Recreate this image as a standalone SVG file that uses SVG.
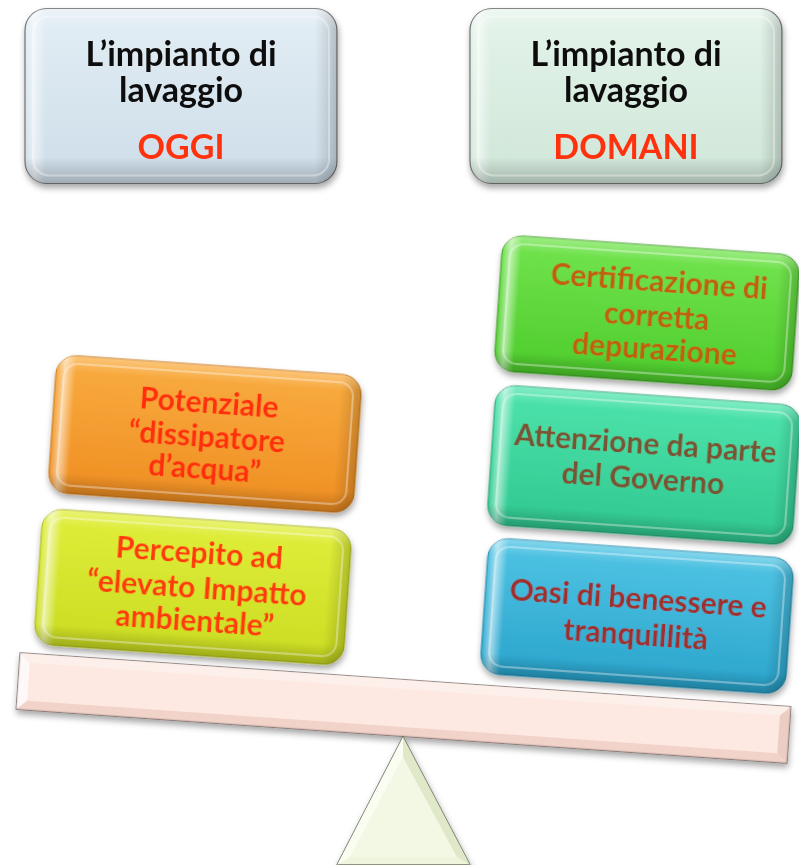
<svg xmlns="http://www.w3.org/2000/svg" width="799" height="865" viewBox="0 0 799 865">
<defs>
  <filter id="sh" x="-10%" y="-10%" width="120%" height="130%">
    <feGaussianBlur in="SourceAlpha" stdDeviation="3"/>
    <feOffset dx="1" dy="4" result="b"/>
    <feFlood flood-color="#000" flood-opacity="0.35"/>
    <feComposite in2="b" operator="in"/>
    <feMerge><feMergeNode/><feMergeNode in="SourceGraphic"/></feMerge>
  </filter>
  <linearGradient id="glossH" x1="0" y1="0" x2="1" y2="0">
    <stop offset="0" stop-color="#fff" stop-opacity="0"/>
    <stop offset="0.03" stop-color="#fff" stop-opacity="0.55"/>
    <stop offset="0.065" stop-color="#fff" stop-opacity="0"/>
    <stop offset="0.93" stop-color="#000" stop-opacity="0"/>
    <stop offset="0.975" stop-color="#000" stop-opacity="0.12"/>
    <stop offset="1" stop-color="#000" stop-opacity="0.2"/>
  </linearGradient>
  <linearGradient id="glossV" x1="0" y1="0" x2="0" y2="1">
    <stop offset="0" stop-color="#fff" stop-opacity="0.3"/>
    <stop offset="0.12" stop-color="#fff" stop-opacity="0"/>
    <stop offset="0.85" stop-color="#000" stop-opacity="0"/>
    <stop offset="1" stop-color="#000" stop-opacity="0.22"/>
  </linearGradient>
  <linearGradient id="gTitleL" x1="0" y1="0" x2="0" y2="1"><stop offset="0" stop-color="#e3eef5"/><stop offset="1" stop-color="#cddde8"/></linearGradient>
  <linearGradient id="gTitleR" x1="0" y1="0" x2="0" y2="1"><stop offset="0" stop-color="#e4f4ea"/><stop offset="1" stop-color="#cfe6d8"/></linearGradient>
  <linearGradient id="gOrange" x1="0" y1="0" x2="0" y2="1"><stop offset="0" stop-color="#f9ac40"/><stop offset="1" stop-color="#ef8e22"/></linearGradient>
  <linearGradient id="gYellow" x1="0" y1="0" x2="0" y2="1"><stop offset="0" stop-color="#e0ee3a"/><stop offset="1" stop-color="#cadc22"/></linearGradient>
  <linearGradient id="gGreen" x1="0" y1="0" x2="0" y2="1"><stop offset="0" stop-color="#72e44e"/><stop offset="1" stop-color="#4ecc2c"/></linearGradient>
  <linearGradient id="gTeal" x1="0" y1="0" x2="0" y2="1"><stop offset="0" stop-color="#4ee4ac"/><stop offset="1" stop-color="#30c890"/></linearGradient>
  <linearGradient id="gBlue" x1="0" y1="0" x2="0" y2="1"><stop offset="0" stop-color="#50c4e4"/><stop offset="1" stop-color="#2aa4cc"/></linearGradient>
</defs>
<style>
  text { font-family: Lato, "Liberation Sans", sans-serif; font-weight: bold; text-anchor: middle; }
  .title { font-size: 34px; fill: #111; }
  .key { font-size: 34px; fill: #ff3311; }
  .t30 { font-size: 30px; }
  .frame { stroke: #6f6f6f; stroke-width: 1.2; }
  .rim { fill: none; stroke: #fff; stroke-opacity: 0.35; stroke-width: 2; }
</style>
<rect width="799" height="865" fill="#fff"/>

<g id="title-oggi" transform="translate(181,95.5)" filter="url(#sh)">
  <rect x="-156" y="-87" width="312" height="175" rx="22" fill="url(#gTitleL)" class="frame"/>
  <rect x="-156" y="-87" width="312" height="175" rx="22" fill="url(#glossH)"/>
  <rect x="-156" y="-87" width="312" height="175" rx="22" fill="url(#glossV)"/>
  <rect x="-148" y="-79" width="296" height="159" rx="16" class="rim"/>
  <text x="0" y="-29.5" class="title">L’impianto di</text>
  <text x="0" y="6.5" class="title">lavaggio</text>
  <text x="0" y="63.5" class="key">OGGI</text>
</g>

<g id="title-domani" transform="translate(626,95.5)" filter="url(#sh)">
  <rect x="-156" y="-87" width="312" height="175" rx="22" fill="url(#gTitleR)" class="frame"/>
  <rect x="-156" y="-87" width="312" height="175" rx="22" fill="url(#glossH)"/>
  <rect x="-156" y="-87" width="312" height="175" rx="22" fill="url(#glossV)"/>
  <rect x="-148" y="-79" width="296" height="159" rx="16" class="rim"/>
  <text x="0" y="-29.5" class="title">L’impianto di</text>
  <text x="0" y="6.5" class="title">lavaggio</text>
  <text x="0" y="63.5" class="key">DOMANI</text>
</g>

<g id="beam" transform="translate(403.5,708) rotate(4)" filter="url(#sh)">
  <rect x="-386" y="-28" width="772" height="56" fill="#fbe2d9" stroke="#7a6763" stroke-width="1.5"/>
  <rect x="-376" y="-19" width="752" height="38" fill="#fde9e2"/>
  <polygon points="-386,-28 -376,-19 -376,19 -386,28" fill="#fff" fill-opacity="0.8"/>
  <polygon points="386,-28 376,-19 376,19 386,28" fill="#e8c8be" fill-opacity="0.8"/>
  <polygon points="-386,28 -376,19 376,19 386,28" fill="#f0cfc5" fill-opacity="0.8"/>
  <polygon points="-386,-28 -376,-19 376,-19 386,-28" fill="#fdf0eb"/>
</g>

<g id="fulcrum" filter="url(#sh)">
  <polygon points="403,737 337,865 470,865" fill="#eef5dc" stroke="#6e7660" stroke-width="1.5"/>
  <polygon points="403,757 350,857 457,857" fill="#f2f8e4"/>
  <polygon points="403,737 403,757 350,857 337,865" fill="#fafdf2"/>
  <polygon points="403,737 403,757 457,857 470,865" fill="#dfe8c8"/>
</g>

<g id="box-potenziale" transform="translate(205,434) rotate(4)" filter="url(#sh)">
  <rect x="-153" y="-69" width="306" height="138" rx="20" fill="url(#gOrange)" stroke="#c87414" stroke-width="1"/>
  <rect x="-153" y="-69" width="306" height="138" rx="20" fill="url(#glossH)"/>
  <rect x="-153" y="-69" width="306" height="138" rx="20" fill="url(#glossV)"/>
  <rect x="-145" y="-61" width="290" height="122" rx="14" class="rim"/>
  <text x="2" y="-21" class="t30" fill="#ff2d0d">Potenziale</text>
  <text x="2" y="13" class="t30" fill="#ff2d0d">“dissipatore</text>
  <text x="2" y="45" class="t30" fill="#ff2d0d">d’acqua”</text>
</g>

<g id="box-percepito" transform="translate(193,587) rotate(4)" filter="url(#sh)">
  <rect x="-155" y="-68" width="310" height="136" rx="20" fill="url(#gYellow)" stroke="#a6b414" stroke-width="1"/>
  <rect x="-155" y="-68" width="310" height="136" rx="20" fill="url(#glossH)"/>
  <rect x="-155" y="-68" width="310" height="136" rx="20" fill="url(#glossV)"/>
  <rect x="-147" y="-60" width="294" height="120" rx="14" class="rim"/>
  <text x="4" y="-24" class="t30" fill="#ff3a10">Percepito ad</text>
  <text x="4" y="11" class="t30" fill="#ff3a10">“elevato Impatto</text>
  <text x="4" y="44" class="t30" fill="#ff3a10">ambientale”</text>
</g>

<g id="box-certificazione" transform="translate(647,313) rotate(4)" filter="url(#sh)">
  <rect x="-149" y="-68" width="298" height="136" rx="20" fill="url(#gGreen)" stroke="#3a9a1e" stroke-width="1"/>
  <rect x="-149" y="-68" width="298" height="136" rx="20" fill="url(#glossH)"/>
  <rect x="-149" y="-68" width="298" height="136" rx="20" fill="url(#glossV)"/>
  <rect x="-141" y="-60" width="282" height="120" rx="14" class="rim"/>
  <text x="10" y="-22" class="t30" fill="#c25e10">Certificazione di</text>
  <text x="10" y="13" class="t30" fill="#c25e10">corretta</text>
  <text x="10" y="46" class="t30" fill="#c25e10">depurazione</text>
</g>

<g id="box-attenzione" transform="translate(644,465) rotate(4)" filter="url(#sh)">
  <rect x="-153" y="-70" width="306" height="140" rx="20" fill="url(#gTeal)" stroke="#22a070" stroke-width="1"/>
  <rect x="-153" y="-70" width="306" height="140" rx="20" fill="url(#glossH)"/>
  <rect x="-153" y="-70" width="306" height="140" rx="20" fill="url(#glossV)"/>
  <rect x="-145" y="-62" width="290" height="124" rx="14" class="rim"/>
  <text x="0" y="-11" class="t30" fill="#7a5232">Attenzione da parte</text>
  <text x="0" y="24" class="t30" fill="#7a5232">del Governo</text>
</g>

<g id="box-oasi" transform="translate(637,616) rotate(4)" filter="url(#sh)">
  <rect x="-153" y="-68" width="306" height="136" rx="20" fill="url(#gBlue)" stroke="#1a86aa" stroke-width="1"/>
  <rect x="-153" y="-68" width="306" height="136" rx="20" fill="url(#glossH)"/>
  <rect x="-153" y="-68" width="306" height="136" rx="20" fill="url(#glossV)"/>
  <rect x="-145" y="-60" width="290" height="120" rx="14" class="rim"/>
  <text x="0" y="-7" class="t30" fill="#a02e2c">Oasi di benessere e</text>
  <text x="0" y="29" class="t30" fill="#a02e2c">tranquillità</text>
</g>
</svg>
